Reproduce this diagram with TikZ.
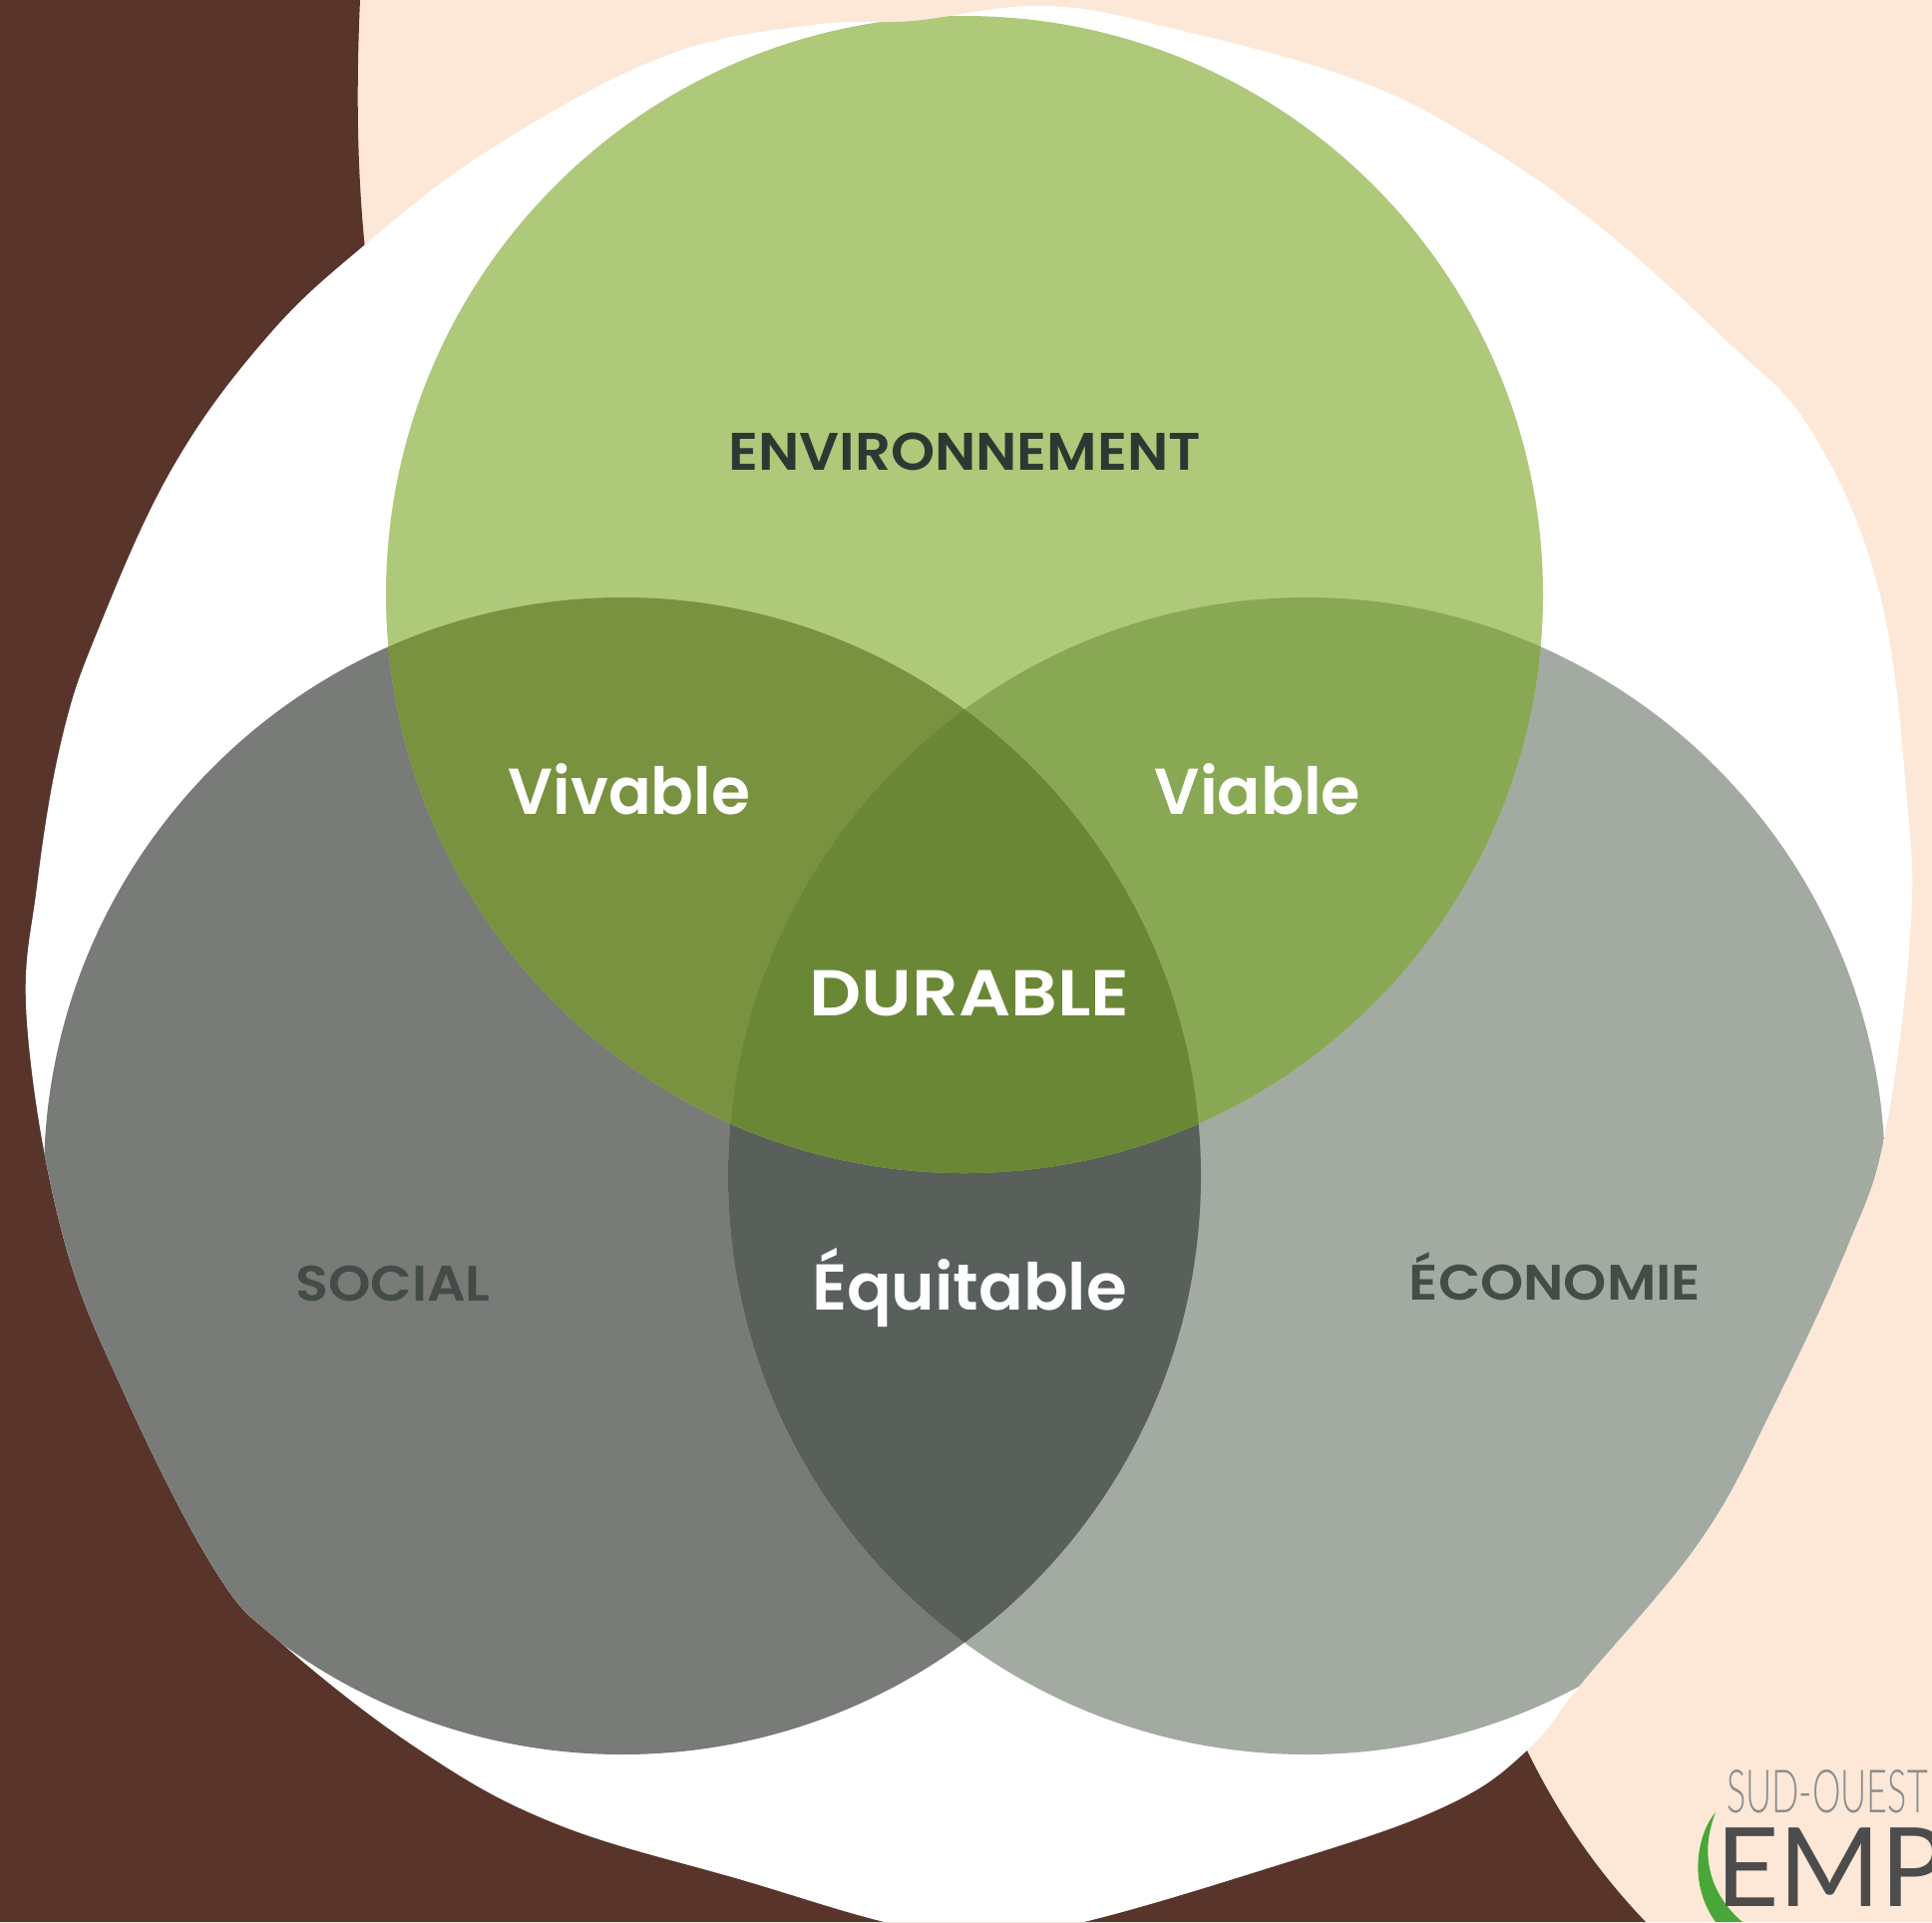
\documentclass[tikz,border=0pt]{standalone}
\usepackage{fontspec}
\setmainfont{Poppins}[BoldFont={Poppins SemiBold}]
\newfontfamily\logothin{Lato Light}
\newfontfamily\logobold{Lato}
\definecolor{peach}{HTML}{FDE8D7}
\definecolor{brown}{HTML}{58342B}
\definecolor{envgreen}{HTML}{AFC97B}
\definecolor{vivgreen}{HTML}{78923F}
\definecolor{viagreen}{HTML}{89A854}
\definecolor{durgreen}{HTML}{6A8736}
\definecolor{socgrey}{HTML}{787B78}
\definecolor{ecogrey}{HTML}{A3AAA2}
\definecolor{equgrey}{HTML}{595F5A}
\definecolor{swoosh}{HTML}{48A738}
\definecolor{darktext}{HTML}{2E3833}
\tikzset{
  darklabel/.style={text=darktext,font=\bfseries\fontsize{53}{53}\selectfont,inner sep=0pt,transform shape},
  whitelabel/.style={text=white,font=\bfseries\fontsize{65}{65}\selectfont,inner sep=0pt,transform shape},
  sociallabel/.style={darklabel,text=darktext!90,font=\bfseries\fontsize{50}{50}\selectfont}
}
\begin{document}
\begin{tikzpicture}[x=1pt,y=-1pt]
\clip (0,0) rectangle (1937,1927);
\fill[peach] (0,0) rectangle (1937,1927);
\fill[brown] (0,0) -- (361,0) .. controls (357,90) and (358,170) .. (366,250) -- (1530,1753)
  .. controls (1565,1825) and (1605,1880) .. (1650,1927) -- (0,1927) -- cycle;
\coordinate (envC) at (967,596);
\coordinate (socC) at (624,1179);
\coordinate (ecoC) at (1310,1179);
\begin{scope}
\path[clip] plot[smooth cycle,tension=0.65] coordinates {(815,25) (914,21) (1050,6) (1186,31) (1359,80)
  (1482,142) (1606,229) (1729,340) (1816,432) (1884,593) (1912,803) (1915,939) (1890,1136)
  (1853,1248) (1779,1408) (1705,1544) (1587,1686) (1532,1754) (1451,1810) (1297,1865)
  (1050,1935) (925,1935) (741,1884) (556,1828) (420,1754) (284,1649) (216,1575) (124,1396)
  (62,1235) (27,1025) (37,889) (62,741) (99,630) (173,469) (266,340) (364,247) (494,148) (667,56)};
\fill[white] (0,0) rectangle (1937,1927);
\fill[socgrey] (socC) circle[radius=580];
\fill[ecogrey] (ecoC) circle[radius=580];
\begin{scope}
\clip (socC) circle[radius=580];
\fill[equgrey] (ecoC) circle[radius=580];
\end{scope}
\fill[envgreen] (envC) circle[radius=580];
\begin{scope}
\clip (envC) circle[radius=580];
\fill[vivgreen] (socC) circle[radius=580];
\fill[viagreen] (ecoC) circle[radius=580];
\clip (socC) circle[radius=580];
\fill[durgreen] (ecoC) circle[radius=580];
\end{scope}
\end{scope}
\node[darklabel,xscale=1.06] (env) at (967,453) {ENVIRONNEMENT};
\node[whitelabel,xscale=0.97] (viv) at (631,791) {Vivable};
\node[whitelabel,xscale=0.98] (via) at (1261,791) {Viable};
\node[whitelabel,xscale=1.12] (dur) at (972,996) {DURABLE};
\node[sociallabel,xscale=1.08] (soc) at (394,1287) {SOCIAL};
\node[sociallabel,xscale=1.10] (eco) at (1559,1280) {ÉCONOMIE};
\node[whitelabel,xscale=1.015] (equ) at (972,1291) {Équitable};
% logo
\fill[swoosh] (1720,1817) .. controls (1704,1835) and (1690,1885) .. (1720,1927)
  -- (1747,1927) .. controls (1715,1900) and (1703,1860) .. (1720,1817) -- cycle;
\node[anchor=base west,inner sep=0pt,text=black!45,font=\logothin\fontsize{60}{60}\selectfont,xscale=0.6,transform shape] (sud) at (1731,1817) {SUD-OUEST};
\node[anchor=base west,inner sep=0pt,text=black!70,font=\logobold\fontsize{110}{110}\selectfont] (emp) at (1720,1911) {EMPL};
\end{tikzpicture}
\end{document}
